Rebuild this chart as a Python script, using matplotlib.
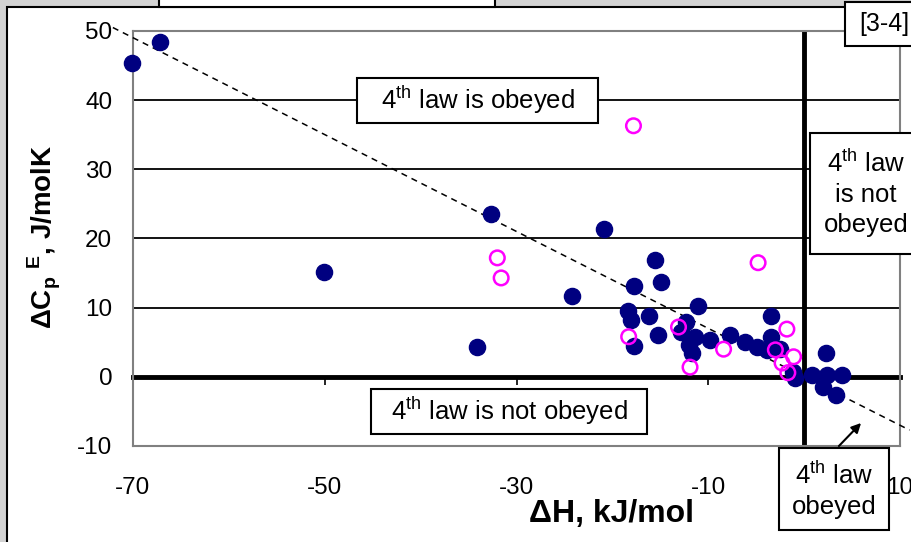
import matplotlib.pyplot as plt
from matplotlib.patches import Rectangle, FancyArrowPatch

plt.rcParams['font.family'] = ['Liberation Sans', 'DejaVu Sans']
plt.rcParams['mathtext.fontset'] = 'custom'
plt.rcParams['mathtext.rm'] = 'Liberation Sans'
plt.rcParams['mathtext.bf'] = 'Liberation Sans:bold'
plt.rcParams['axes.unicode_minus'] = False

# enthalpy / excess heat capacity pairs
blue_dH = [-70.1, -67.2, -50.1, -34.1, -32.7, -24.2, -20.9, -15.6, -17.7, -14.9,
           -18.4, -18.1, -16.2, -11.1, -15.2, -17.7, -12.3, -12.8, -11.4, -12.0,
           -11.7, -9.8, -7.7, -6.2, -4.9, -3.5, -3.5, -3.9, -2.5, -1.2,
           -0.9, 2.3, 0.8, 2.4, 4.0, 2.0, 3.3]
blue_dCp = [45.4, 48.4, 15.2, 4.3, 23.6, 11.7, 21.4, 16.9, 13.2, 13.7,
            9.5, 8.2, 8.8, 10.3, 6.1, 4.5, 7.9, 6.5, 5.8, 4.6,
            3.5, 5.3, 6.1, 5.1, 4.3, 8.8, 5.8, 3.9, 4.0, 0.7,
            -0.1, 3.5, 0.3, 0.3, 0.3, -1.4, -2.6]

pink_dH = [-17.8, -32.0, -31.6, -4.8, -18.3, -13.1, -11.9, -8.4, -1.8, -3.0,
           -1.1, -2.3, -1.7]
pink_dCp = [36.3, 17.2, 14.3, 16.5, 5.8, 7.2, 1.4, 4.0, 6.9, 3.9,
            2.9, 2.0, 0.6]

trend_x = [-72.1, 11.0]
trend_y = [50.5, -7.7]

x_ticks = [-70, -50, -30, -10, 10]
y_ticks = [-10, 0, 10, 20, 30, 40, 50]
grid_y = [10, 20, 30, 40]

W, H = 912, 542


def fx(x):
    return x / W


def fy(y):
    return 1 - y / H


fig = plt.figure(figsize=(W / 100, H / 100), dpi=100)
fig.patch.set_facecolor('#d2d2d2')

# white chart area with black frame, plus the cut box at the top
fig.add_artist(Rectangle((fx(7), fy(1000)), fx(1000), fy(7) - fy(1000),
                         transform=fig.transFigure, facecolor='white',
                         edgecolor='black', lw=1.5, zorder=-2))
fig.add_artist(Rectangle((fx(159), fy(7)), fx(495 - 159), fy(-10) - fy(7),
                         transform=fig.transFigure, facecolor='white',
                         edgecolor='black', lw=1.5, zorder=-1))

ax = fig.add_axes([fx(133), fy(446), fx(900 - 133), fy(31) - fy(446)])
ax.set_xlim(-70, 10)
ax.set_ylim(-10, 50)
ax.set_xticks(x_ticks)
ax.set_yticks(y_ticks)
ax.tick_params(axis='both', length=0, labelsize=17.5)
ax.tick_params(axis='x', pad=22)
ax.tick_params(axis='y', pad=15)
for s in ax.spines.values():
    s.set_color('#808080')
    s.set_linewidth(1.5)

ax.hlines(grid_y, -70, 10, color='black', lw=1.3, zorder=1)
ax.axvline(0, color='black', lw=3.5, zorder=2)

# x axis crossing at y = 0 with its tick marks
sec = ax.secondary_xaxis(10 / 60)
sec.set_xticks(x_ticks)
sec.tick_params(direction='out', length=6, width=1.2, labelbottom=False, labeltop=False)
for s in sec.spines.values():
    s.set_color('black')
    s.set_linewidth(3.5)

ax.plot(trend_x, trend_y, color='black', lw=1.1, dashes=(4, 3.3), clip_on=False, zorder=3)

ax.scatter(blue_dH, blue_dCp, s=135, color='#000080', zorder=4, clip_on=False)
ax.scatter(pink_dH, pink_dCp, s=110, facecolor='none', edgecolor='#ff00ff',
           linewidths=1.8, zorder=5)

fig.text(fx(612), fy(514), 'ΔH, kJ/mol', ha='center', va='center',
         fontsize=23, fontweight='bold')
fig.text(fx(44), fy(237), r'ΔC$_\mathbf{p}$ $^\mathbf{E}$, J/molK', ha='center',
         va='center', rotation=90, fontsize=20, fontweight='bold')


def label_box(x0, y0, x1, y1, txt, cx, cy, size=18.5, ls=1.2):
    fig.add_artist(Rectangle((fx(x0), fy(y1)), fx(x1 - x0), fy(y0) - fy(y1),
                             transform=fig.transFigure, facecolor='white',
                             edgecolor='black', lw=1.5, zorder=6))
    fig.text(fx(cx), fy(cy), txt, ha='center', va='center', fontsize=size,
             linespacing=ls, zorder=7)


label_box(357, 78, 598, 123, r'4$^{\rm th}$ law is obeyed', 478, 100)
label_box(371, 389, 647, 434, r'4$^{\rm th}$ law is not obeyed', 509, 411)
label_box(845, 2, 930, 46, '[3-4]', 884, 24, size=18)
label_box(810, 133, 930, 254, '4$^{\\rm th}$ law\nis not\nobeyed', 866, 193, ls=1.3)
label_box(779, 448, 889, 530, '4$^{\\rm th}$ law\nobeyed', 834, 490, ls=1.3)

fig.add_artist(FancyArrowPatch((fx(837), fy(448)), (fx(863), fy(421)),
                               transform=fig.transFigure, arrowstyle='-|>',
                               mutation_scale=14, color='black', lw=1.5, zorder=8))

fig.savefig('out.png', dpi=100)
